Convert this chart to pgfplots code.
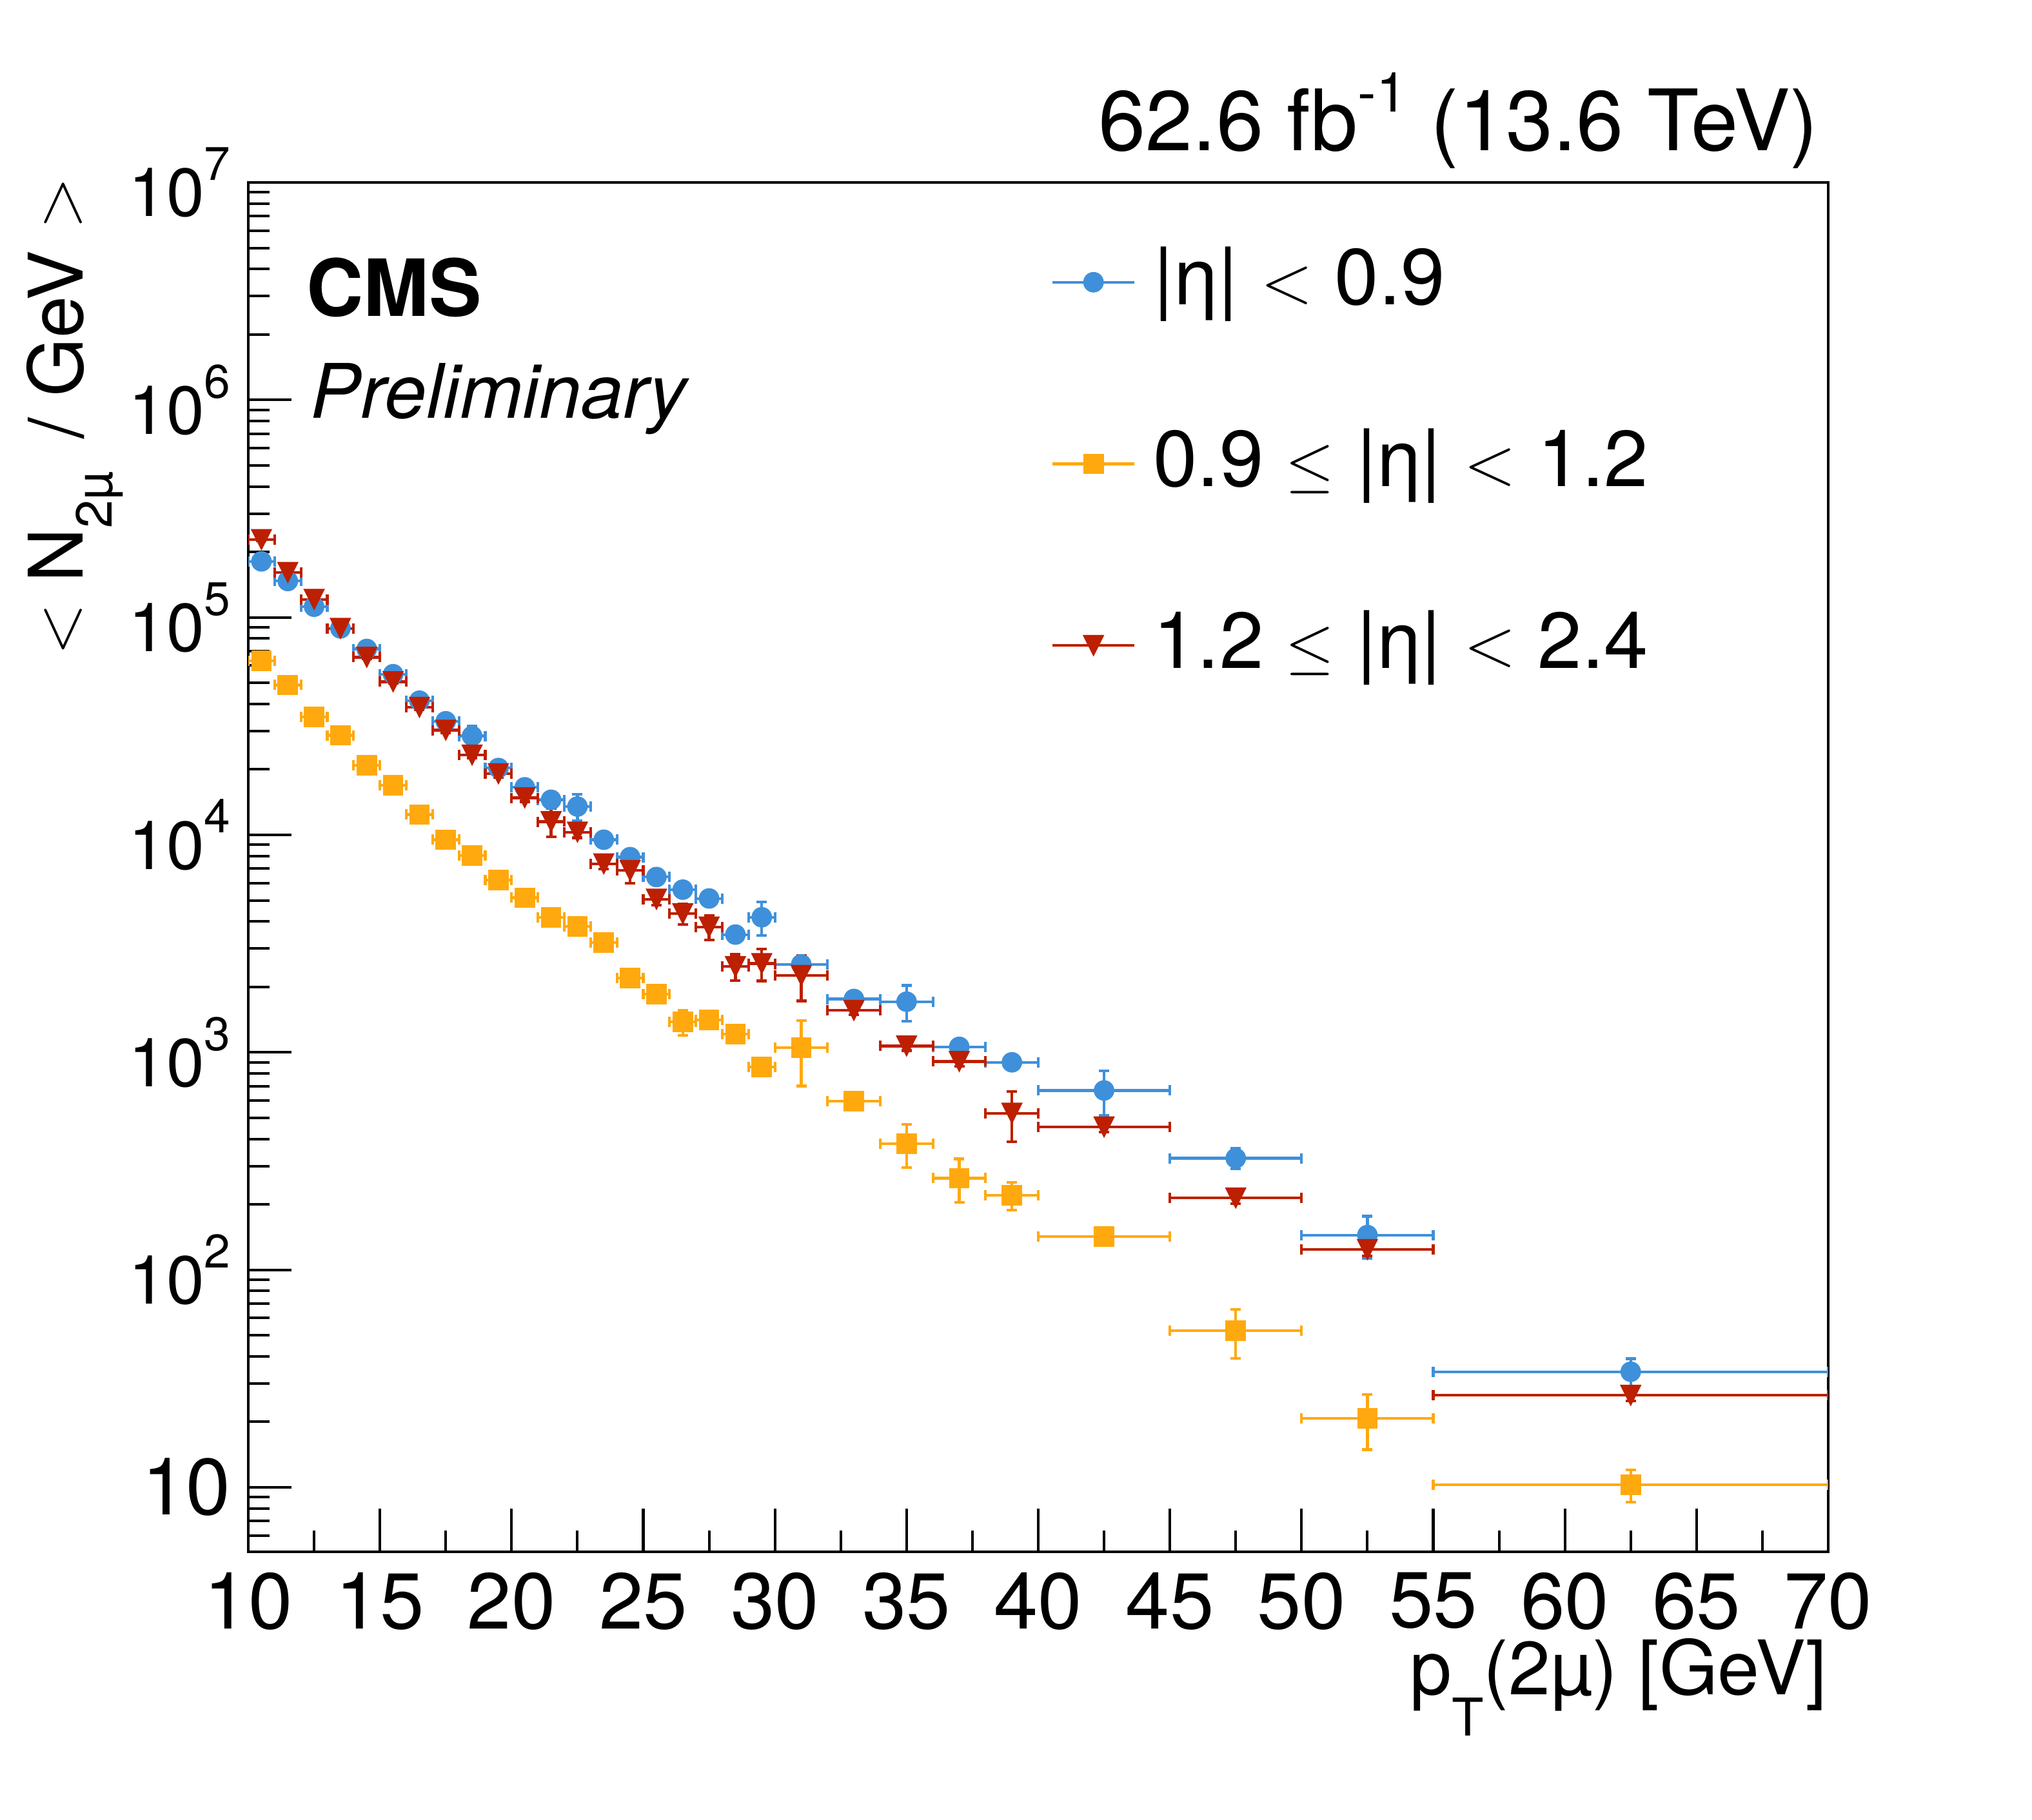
\documentclass[border=0pt]{standalone}
\usepackage{graphicx}
\usepackage{pgfplots}
\pgfplotsset{compat=1.18}
\usepackage{pgfplotstable}
\usepackage{fontspec}
\setmainfont{TeX Gyre Heros}
\definecolor{cblue}{HTML}{3F90DA}
\definecolor{corange}{HTML}{FFA90E}
\definecolor{cred}{HTML}{BD1F01}
\newcommand{\fs}[1]{\fontsize{#1}{#1}\selectfont}
\newcommand{\ylab}[1]{{\fs{15}10\raisebox{8pt}{\fs{10.4}#1}}}
\newcommand{\slt}{\raisebox{0.5pt}{\scalebox{0.87}{$<$}}}
\newcommand{\sgt}{\raisebox{0.5pt}{\scalebox{0.87}{$>$}}}
\newcommand{\sle}{\raisebox{0.3pt}{\scalebox{0.8}{$\leq$}}}
\pgfdeclareplotmark{tridown}{%
  \pgfpathmoveto{\pgfqpoint{-\pgfplotmarksize}{\pgfplotmarksize}}%
  \pgfpathlineto{\pgfqpoint{\pgfplotmarksize}{\pgfplotmarksize}}%
  \pgfpathlineto{\pgfqpoint{0pt}{-\pgfplotmarksize}}%
  \pgfpathclose
  \pgfusepathqfillstroke}

\pgfplotstableread{
x ex y ey
10.5 0.5 181000 2000
11.5 0.5 147000 2000
12.5 0.5 112000 1500
13.5 0.5 89000 1200
14.5 0.5 71600 1000
15.5 0.5 54800 900
16.5 0.5 41400 800
17.5 0.5 33300 900
18.5 0.5 28500 3200
19.5 0.5 20300 600
20.5 0.5 16550 500
21.5 0.5 14500 500
22.5 0.5 13500 1900
23.5 0.5 9500 300
24.5 0.5 7900 250
25.5 0.5 6400 250
26.5 0.5 5600 250
27.5 0.5 5100 250
28.5 0.5 3480 150
29.5 0.5 4180 730
31 1 2540 100
33 1 1760 80
35 1 1710 320
37 1 1060 50
39 1 900 40
42.5 2.5 668 155
47.5 2.5 326 35
52.5 2.5 144.5 32
62.5 7.5 34 5
}\tblue

\pgfplotstableread{
x ex y ey
10.5 0.5 63000 1500
11.5 0.5 48900 1200
12.5 0.5 34800 900
13.5 0.5 28700 800
14.5 0.5 20900 600
15.5 0.5 16900 500
16.5 0.5 12400 400
17.5 0.5 9500 300
18.5 0.5 8050 300
19.5 0.5 6200 250
20.5 0.5 5140 200
21.5 0.5 4180 150
22.5 0.5 3790 150
23.5 0.5 3200 120
24.5 0.5 2200 100
25.5 0.5 1850 90
26.5 0.5 1380 185
27.5 0.5 1410 70
28.5 0.5 1210 60
29.5 0.5 855 40
31 1 1050 350
33 1 598 30
35 1 381 85
37 1 264 60
39 1 220 32
42.5 2.5 142 7
47.5 2.5 52.5 13.3
52.5 2.5 20.8 5.9
62.5 7.5 10.3 1.75
}\torange

\pgfplotstableread{
x ex y ey
10.5 0.5 228000 3000
11.5 0.5 161000 2500
12.5 0.5 121000 2000
13.5 0.5 89000 1500
14.5 0.5 65600 1200
15.5 0.5 50600 1000
16.5 0.5 38600 900
17.5 0.5 30300 800
18.5 0.5 23300 700
19.5 0.5 19100 700
20.5 0.5 14800 600
21.5 0.5 11500 1700
22.5 0.5 10300 600
23.5 0.5 7360 400
24.5 0.5 6860 880
25.5 0.5 5060 300
26.5 0.5 4340 460
27.5 0.5 3770 475
28.5 0.5 2480 340
29.5 0.5 2560 430
31 1 2260 535
33 1 1560 70
35 1 1070 50
37 1 908 45
39 1 525 137
42.5 2.5 454 25
47.5 2.5 214 12
52.5 2.5 124 8
62.5 7.5 26.5 1.5
}\tred

\begin{document}
\begin{tikzpicture}
\path[use as bounding box] (0,0) rectangle (157.55mm,141.15mm);
\begin{axis}[
  at={(19.25mm,20.8mm)}, anchor=south west, scale only axis,
  width=122.5mm, height=106.2mm,
  xmin=10, xmax=70, ymode=log, ymin=5.053, ymax=1e7,
  tick pos=left, tick align=inside,
  axis line style={line width=0.57pt},
  every tick/.style={line width=0.57pt, black},
  major tick length=3.35mm, minor tick length=1.65mm,
  xtick={10,15,...,70}, minor x tick num=1,
  ytick={10,100,1000,10000,100000,1000000,10000000},
  yticklabels={{\fs{17.6}10},{\ylab{2}},{\ylab{3}},{\ylab{4}},{\ylab{5}},{\ylab{6}},{\ylab{7}}},
  minor ytick={6,7,8,9,20,30,40,50,60,70,80,90,200,300,400,500,600,700,800,900,2000,3000,4000,5000,6000,7000,8000,9000,2e4,3e4,4e4,5e4,6e4,7e4,8e4,9e4,2e5,3e5,4e5,5e5,6e5,7e5,8e5,9e5,2e6,3e6,4e6,5e6,6e6,7e6,8e6,9e6},
  xticklabel style={font=\fs{17.5}, inner sep=0pt, yshift=-1.55mm},
  yticklabel style={inner sep=0pt, xshift=-1.3mm},
  /pgf/number format/assume math mode=true,
  error bars/x dir=both, error bars/x explicit,
  error bars/y dir=both, error bars/y explicit,
  error bars/error bar style={line width=0.6pt, solid},
  error bars/error mark options={rotate=90, line width=0.6pt, mark size=0.4mm, solid},
  legend cell align=left,
  legend style={at={(axis description cs:0.5082,0.9536)}, anchor=north west,
    draw=none, fill=none, inner sep=0pt, outer sep=0pt,
    row sep=24.08pt, column sep=0pt, font=\fs{17.5},
    nodes={inner sep=0pt, text height=13pt, text depth=3pt, anchor=west}},
  legend image code/.code={
    \draw[#1, mark=none, line width=0.6pt] (0mm,0mm) -- (6.35mm,0mm);
    \draw[#1, only marks] plot coordinates {(3.175mm,0mm)};
    \path (7.75mm,0mm);
  },
]
\addplot[color=cblue, only marks, mark=*, mark size=0.76mm,
  mark options={line width=0.2pt, fill=cblue, solid}]
  table[x=x, y=y, x error=ex, y error=ey] {\tblue};
\addlegendentry{|η| \slt{} 0.9}
\addplot[color=corange, only marks, mark=square*, mark size=0.76mm,
  mark options={line width=0.2pt, fill=corange, solid}]
  table[x=x, y=y, x error=ex, y error=ey] {\torange};
\addlegendentry{0.9 \sle{} |η| \slt{} 1.2}
\addplot[color=cred, only marks, mark=tridown, mark size=0.78mm,
  mark options={line width=0.2pt, fill=cred, solid}]
  table[x=x, y=y, x error=ex, y error=ey] {\tred};
\addlegendentry{1.2 \sle{} |η| \slt{} 2.4}
\end{axis}
\node[anchor=base east, inner sep=0pt, font=\fs{18.7}] at (141.05mm,129.45mm)
  {62.6 fb\raisebox{8.6pt}{\fs{12.2}-1} (13.6 TeV)};
\node[anchor=base west, inner sep=0pt, font=\fs{17.4}\bfseries] at (23.68mm,116.6mm) {CMS};
\node[anchor=base west, inner sep=0pt, font=\fs{16.6}\itshape] at (24.0mm,108.7mm) {Preliminary};
\node[rotate=90, anchor=base east, inner sep=0pt, font=\fs{16.6}] at (6.4mm,127.45mm)
  {\slt{} N\raisebox{-6.5pt}{\fs{11.2}2µ}\, / GeV \sgt};
\node[anchor=base east, inner sep=0pt, font=\fs{16.6}] at (141.7mm,9.7mm)
  {p\raisebox{-9.1pt}{\fs{11.5}T}(2µ) [GeV]};
\end{tikzpicture}
\end{document}
